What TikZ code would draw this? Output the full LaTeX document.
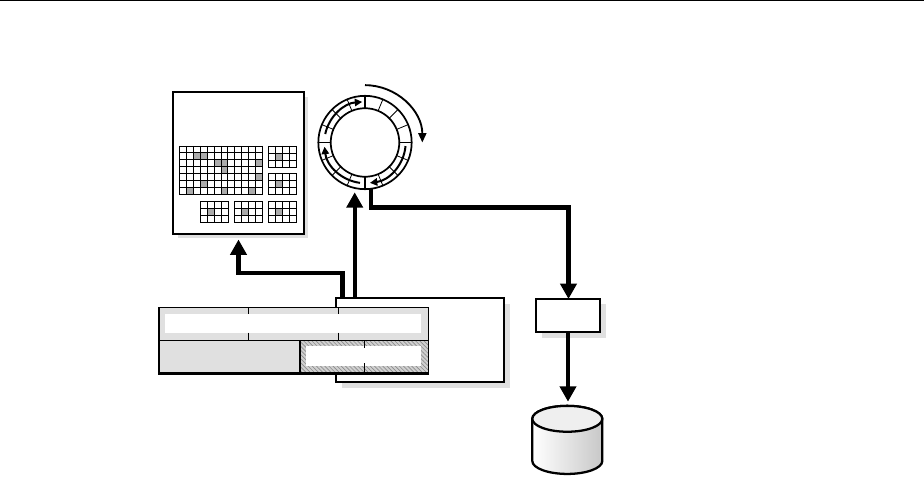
\documentclass[tikz,border=0pt]{standalone}
\usetikzlibrary{arrows.meta,patterns.meta}
\definecolor{shadowgray}{HTML}{E0E0E0}
\definecolor{cellgray}{HTML}{ABABAB}
\definecolor{hatchbase}{HTML}{D0D0D0}
\definecolor{hatchline}{HTML}{8C8C8C}
\definecolor{dbright}{HTML}{C8C8C8}
\definecolor{dbtop}{HTML}{EFEFEF}
\tikzset{
  boxline/.style={draw=black,line width=1.7pt,fill=white,inner sep=0pt,outer sep=0pt,anchor=north west},
  gridline/.style={draw=black,line width=0.7pt},
  bigarrow/.style={draw=black,line width=3.3pt,-{Triangle[length=11.5pt,width=12pt]}},
  ringarrow/.style={draw=black,line width=1.5pt,-{Triangle[length=5.5pt,width=5.5pt]}},
  outerarrow/.style={draw=black,line width=1.4pt,-{Triangle[length=7pt,width=6pt]}},
  ringline/.style={draw=black,line width=1.1pt},
  ringthin/.style={draw=black,line width=0.6pt},
  tablethin/.style={draw=black,line width=1.1pt},
  tablethick/.style={draw=black,line width=1.9pt},
}
\newcommand{\cellgrid}[6]{%
  \foreach \ci in {0,...,#3}{\draw[gridline] ({#1+\ci*#5},#2) -- ({#1+\ci*#5},{#2+#4*#6});}%
  \foreach \cj in {0,...,#4}{\draw[gridline] (#1,{#2+\cj*#6}) -- ({#1+#3*#5},{#2+\cj*#6});}%
}
\newcommand{\cellmark}[6]{%
  \fill[cellgray] ({#1+#3*#5},{#2+#4*#6}) rectangle ({#1+#3*#5+#5},{#2+#4*#6+#6});%
}
\begin{document}
\begin{tikzpicture}[x=0.75pt,y=-0.75pt]
\useasboundingbox (0,0) rectangle (924,477);
\draw[line width=0.6pt] (0,0.5) -- (924,0.5);

% panel
\fill[shadowgray] (178,97) rectangle (308,238.5);
\node[boxline,minimum width=98pt,minimum height=106.5pt] (panel) at (173,92) {};
\foreach \c/\r in {2/1,3/1,5/2,6/2,11/2,6/3,11/4,3/5,1/6,6/6,10/6}{%
  \cellmark{179.3}{146}{\c}{\r}{6.95}{6.9}%
}
\cellgrid{179.3}{146}{12}{7}{6.95}{6.9}
\foreach \x/\y in {268.3/146,268.3/173.3,200.3/201.3,234.3/201.3,268.3/201.3}{%
  \cellmark{\x}{\y}{1}{1}{7.1}{7.15}%
  \cellgrid{\x}{\y}{4}{3}{7.1}{7.15}%
}

% ring
\coordinate (ringc) at (365,142.5);
\draw[ringline,line width=1.3pt] (ringc) circle [radius=35pt];
\draw[ringline,line width=1.3pt] (ringc) circle [radius=25.7pt];
\foreach \a in {22.5,45,67.5,112.5,135,157.5,202.5,225,247.5,292.5,315,337.5}{%
  \draw[ringthin] (ringc) ++(\a:25.7pt) -- ++(\a:9.3pt);%
}
\foreach \a in {0,90,180,270}{%
  \draw[ringline] (ringc) ++(\a:25.7pt) -- ++(\a:9.3pt);%
}
\draw[ringarrow] (ringc) ++(168:30.5pt) arc[start angle=168,end angle=94,radius=30.5pt];
\draw[ringarrow] (ringc) ++(263:30.5pt) arc[start angle=263,end angle=186,radius=30.5pt];
\draw[ringarrow] (ringc) ++(-5:30.5pt) arc[start angle=-5,end angle=-83,radius=30.5pt];
\draw[outerarrow] (ringc) ++(90:43pt) arc[start angle=90,end angle=0,radius=43pt];

% main box
\fill[shadowgray] (342,304) rectangle (510,388);
\node[boxline,minimum width=126pt,minimum height=63pt] (mainbox) at (336,298.3) {};

% table
\fill[shadowgray] (159,307.5) rectangle (428.5,340.5);
\fill[white] (165,314) rectangle (421,332.7);
\fill[shadowgray] (159,340.5) rectangle (300,373.7);
\fill[hatchbase] (300,340.5) rectangle (428.5,373.7);
\fill[pattern={Lines[angle=-45,distance=2.2pt,line width=0.5pt]},pattern color=hatchline] (300,340.5) rectangle (428.5,373.7);
\fill[white] (306,345.7) rectangle (421,365.7);
\draw[tablethin] (159,307.5) -- (428.5,307.5) -- (428.5,373.7);
\draw[tablethin] (159,340.5) -- (428.5,340.5);
\draw[tablethick] (159,307) -- (159,373.7) -- (429,373.7);
\draw[tablethick] (300,340.5) -- (300,373.7);
\foreach \x in {248.5,338.5}{%
  \draw[tablethin,line width=0.9pt] (\x,307.5) -- (\x,314);
  \draw[tablethin,line width=0.9pt] (\x,332.7) -- (\x,340.5);
}
\draw[tablethin,line width=0.9pt] (364.5,340.5) -- (364.5,347.5);
\draw[tablethin,line width=0.9pt] (364.5,363) -- (364.5,373.7);

% small box
\fill[shadowgray] (541.5,304) rectangle (606,337.5);
\node[boxline,minimum width=48pt,minimum height=24.5pt] (logbox) at (536,299) {};

% database
\coordinate (dbtopc) at (567.3,406);
\path[left color=white,right color=dbright,draw=black,line width=1.7pt]
  (532.3,418.8) -- (532.3,461)
  arc[start angle=180,end angle=360,x radius=26.25pt,y radius=9.7pt]
  -- (602.3,418.8)
  arc[start angle=0,end angle=180,x radius=26.25pt,y radius=9.7pt] -- cycle;
\draw[fill=dbtop,draw=black,line width=1.7pt] (567.3,418.8) ellipse [x radius=26.25pt,y radius=9.7pt];

% connectors
\coordinate (panelin) at (238.5,239.5);
\coordinate (ringin) at (354.7,192.3);
\coordinate (ringout) at (370.7,188.5);
\draw[bigarrow] (mainbox.north west -| 342.3,0) -- (342.3,273.3) -- (238.5,273.3) -- (panelin);
\draw[bigarrow] (mainbox.north west -| 354.7,0) -- (ringin);
\draw[bigarrow] (ringout) -- (370.7,207.7) -- (568.5,207.7) -- (logbox.north -| 568.5,0);
\draw[bigarrow] (logbox.south -| 568,0) -- (568,401.7);
\end{tikzpicture}
\end{document}
